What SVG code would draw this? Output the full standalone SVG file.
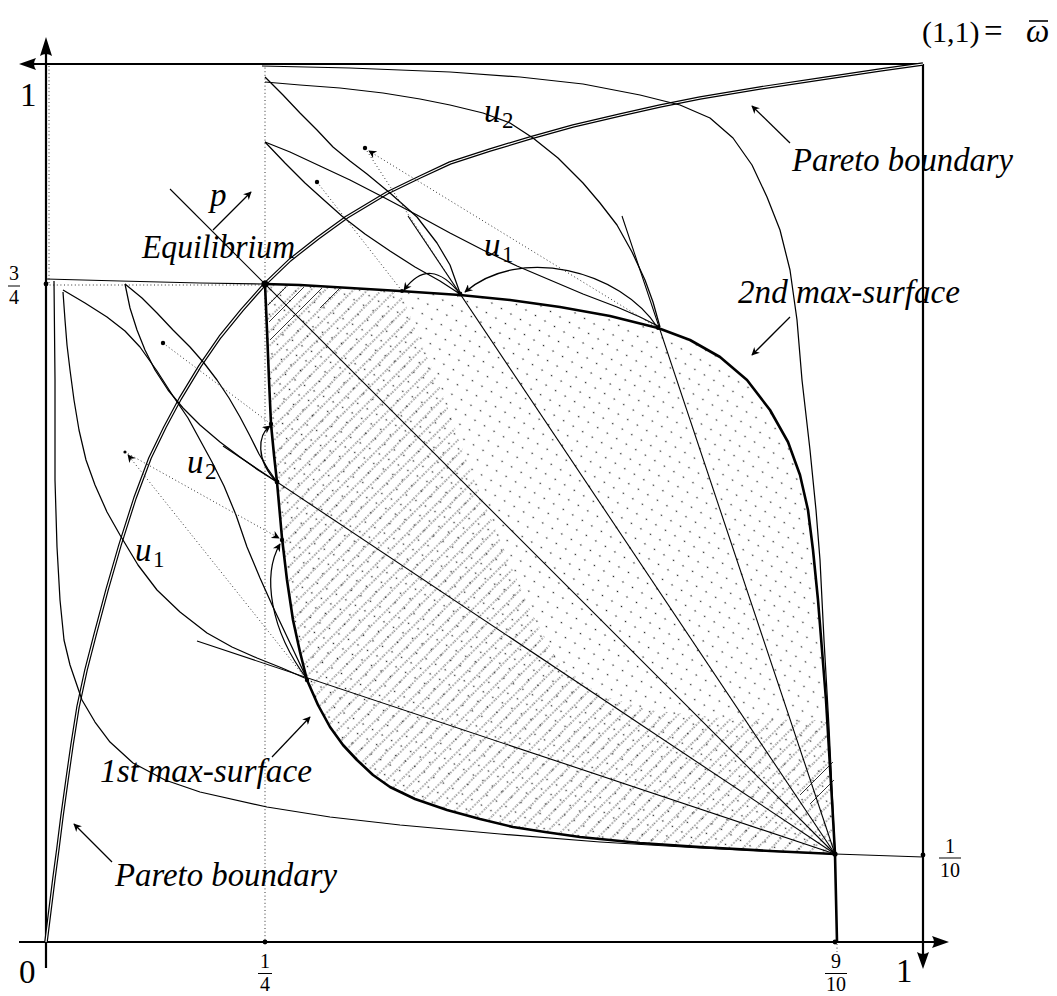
<svg xmlns="http://www.w3.org/2000/svg" width="1057" height="996" viewBox="0 0 1057 996">
<style>
.ax{stroke:#000;stroke-width:2.2;fill:none}
.thin{stroke:#000;stroke-width:1.25;fill:none;stroke-linejoin:round}
.thick{stroke:#000;stroke-width:2.6;fill:none;stroke-linejoin:round}
.ray{stroke:#000;stroke-width:1.1;fill:none}
.dotl{stroke:#333;stroke-width:1;fill:none;stroke-dasharray:1 2.6}
.lbl{font-family:"Liberation Serif","DejaVu Serif",serif;font-size:33px;font-style:italic;fill:#000}
.num{font-family:"Liberation Serif","DejaVu Serif",serif;font-size:33px;fill:#000}
.frac{font-family:"Liberation Serif","DejaVu Serif",serif;font-size:20px;fill:#000;text-anchor:middle}
.sub{font-family:"Liberation Serif","DejaVu Serif",serif;font-size:23px;fill:#000}
</style>
<defs>
<marker id="ah" viewBox="0 0 10 10" refX="9" refY="5" markerWidth="11" markerHeight="8" markerUnits="userSpaceOnUse" orient="auto">
<path d="M0,0 L10,5 L0,10 L3,5 Z" fill="#000"/>
</marker>
<pattern id="dots" width="11" height="11" patternUnits="userSpaceOnUse" patternTransform="rotate(30)">
<circle cx="5.5" cy="5.5" r="0.8" fill="#222"/>
</pattern>
<pattern id="hatch" width="12" height="10" patternUnits="userSpaceOnUse" patternTransform="rotate(-45)">
<line x1="0" y1="5" x2="12" y2="5" stroke="#000" stroke-width="0.9" stroke-dasharray="1.2 2"/>
</pattern>
<clipPath id="lens">
<polygon points="265,284 300,285 350,288 400,291 460,295 510,300 560,307 610,316 658,328 690,340 720,357 747,380 770,410 788,442 800,475 808,510 813,550 818,600 822,650 826,700 829,750 832,800 835,854 770,851 700,847 640,843 580,837 545,832 513,827 480,819 447,810 415,799 390,787 373,775 357,760 343,745 330,727 318,705 307,680 300,652 293,620 287,580 282,538 277,482 274,455 271,424 269,380 267,330"/>
</clipPath>
<clipPath id="hreg">
<polygon points="265,284 300,285 350,288 400,291 420,340 445,400 470,470 500,540 530,610 560,665 600,695 650,710 720,718 800,720 826,720 829,750 832,800 835,854 770,851 700,847 640,843 580,837 545,832 513,827 480,819 447,810 415,799 390,787 373,775 357,760 343,745 330,727 318,705 307,680 300,652 293,620 287,580 282,538 277,482 274,455 271,424 269,380 267,330"/>
</clipPath>
</defs>
<rect width="1057" height="996" fill="#fff"/>

<g id="shading">
<rect x="260" y="280" width="580" height="580" fill="url(#dots)" clip-path="url(#lens)"/>
<rect x="260" y="280" width="580" height="580" fill="url(#hatch)" clip-path="url(#hreg)"/>
<g stroke="#000" stroke-width="0.8" fill="none">
<line x1="286" y1="287" x2="268" y2="305"/>
<line x1="304" y1="287" x2="269" y2="322"/>
<line x1="322" y1="288" x2="270" y2="340"/>
<line x1="340" y1="288" x2="320" y2="308"/>
<line x1="834" y1="780" x2="810" y2="804"/>
<line x1="833" y1="762" x2="800" y2="795"/>
</g>
</g>

<g id="guides">
<line class="dotl" x1="265" y1="64" x2="265" y2="942"/>
<line class="dotl" x1="46" y1="285" x2="265" y2="285"/>
<line class="dotl" x1="49" y1="66" x2="49" y2="284"/>
<line class="dotl" x1="837" y1="944" x2="837" y2="952"/>
</g>

<g id="axes">
<line class="ax" x1="19" y1="942" x2="938" y2="942"/>
<line class="ax" x1="46" y1="968" x2="46" y2="48"/>
<line class="ax" x1="30" y1="64" x2="923" y2="64"/>
<line class="ax" x1="923" y1="64" x2="923" y2="958"/>
<path d="M46,37 L52,56 Q46,52 40,56 Z"/>
<path d="M19,64 L36,58 Q32,64 36,70 Z"/>
<path d="M949,942 L932,936 Q936,942 932,948 Z"/>
<path d="M923,969 L917,952 Q923,956 929,952 Z"/>
</g>

<g id="pareto-boundary">
<polyline points="46,942 50,910 54,878 58,848 62,816 67,780 72,745 78,707 86,670 95,635 107,590 120,545 135,498 150,458 165,427 180,399 200,366 220,337 242,310 265,284 290,260 318,238 347,217 387,193 420,177 450,163 490,150 530,138 573,126 620,115 660,106 700,98 760,88 820,79 880,70 923,64" fill="none" stroke="#000" stroke-width="3.6" stroke-linejoin="round"/>
<polyline points="46,942 50,910 54,878 58,848 62,816 67,780 72,745 78,707 86,670 95,635 107,590 120,545 135,498 150,458 165,427 180,399 200,366 220,337 242,310 265,284 290,260 318,238 347,217 387,193 420,177 450,163 490,150 530,138 573,126 620,115 660,106 700,98 760,88 820,79 880,70 923,64" fill="none" stroke="#fff" stroke-width="1.2" stroke-linejoin="round"/>
</g>

<g id="indifference-curves" class="thin">
<polyline points="54,281 55,380 55,480 57,547 60,600 64,640 70,665 82,700 95,722 110,742 133,763 165,780 200,792 267,807 330,817 400,825 500,834 600,842 700,848 835,854"/>
<polyline points="835,854 923,857"/>
<polyline points="262,66 350,68 450,72 520,77 583,84 640,95 680,105 710,118 733,138 752,165 767,197 780,230 790,270 797,320 802,380 810,450 816,510 820,560 824,640 829,727 832,790 835,854"/>
<polyline points="46,279 120,281 200,283 265,284"/>
<polyline points="63,292 65,320 67,345 70,370 74,400 79,430 86,460 95,485 107,512 120,535 138,565 157,590 180,612 207,633 232,647 257,658 282,668 307,679"/>
<polyline points="63,290 85,303 107,317 125,331 140,347 157,371 173,396 188,418 200,440 212,462 224,486 236,515 247,547 260,578 273,607 290,643 307,679"/>
<polyline points="125,284 130,308 137,330 145,350 155,370 168,390 183,408 200,425 220,442 240,457 258,470 277,482"/>
<polyline points="125,284 142,298 157,313 173,330 190,347 204,363 217,380 229,398 240,417 250,436 259,454 268,469 277,482"/>
<polyline points="265,77 283,95 300,113 317,130 333,147 350,161 367,174 390,193 417,217 437,243 450,265 460,293"/>
<polyline points="265,142 285,163 305,183 325,201 343,217 365,234 390,251 415,267 440,281 460,294"/>
<polyline points="265,82 300,85 340,88 383,93 420,99 450,105 483,113 510,123 533,138 558,158 583,183 600,203 617,225 632,252 645,280 653,302 660,327"/>
<polyline points="265,142 290,152 320,166 350,180 383,197 417,215 450,233 483,250 517,266 550,280 583,294 617,307 640,317 660,327"/>
</g>

<g id="rays" class="ray">
<line x1="835" y1="854" x2="170" y2="189"/>
<line x1="835" y1="854" x2="223" y2="446"/>
<line x1="835" y1="854" x2="197" y2="641"/>
<line x1="835" y1="854" x2="408" y2="216"/>
<line x1="835" y1="854" x2="622" y2="216"/>
</g>

<g id="max-surfaces">
<polyline class="thick" points="265,284 300,285 350,288 400,291 460,295 510,300 560,307 610,316 658,328 690,340 720,357 747,380 770,410 788,442 800,475 808,510 813,550 818,600 822,650 826,700 829,750 832,800 835,854 837,942"/>
<polyline class="thick" points="265,284 267,330 269,380 271,424 274,455 277,482 282,538 287,580 293,620 300,652 307,680 318,705 330,727 343,745 357,760 373,775 390,787 415,799 447,810 480,819 513,827 545,832 580,837 640,843 700,847 770,851 835,854"/>
</g>

<g id="moves">
<line class="dotl" x1="365" y1="148" x2="460" y2="294"/>
<line class="dotl" x1="658" y1="328" x2="369" y2="151" marker-end="url(#ah)"/>
<line class="dotl" x1="317" y1="182" x2="402" y2="291"/>
<line class="dotl" x1="163" y1="343" x2="271" y2="424"/>
<line class="dotl" x1="307" y1="680" x2="128" y2="455" marker-end="url(#ah)"/>
<line class="dotl" x1="125" y1="452" x2="279" y2="538" marker-end="url(#ah)"/>
<path class="thin" d="M460,294 Q430,255 404,290" marker-end="url(#ah)"/>
<path class="thin" d="M658,328 C620,270 520,245 465,292" marker-end="url(#ah)"/>
<path class="thin" d="M277,482 C255,460 258,435 270,426" marker-end="url(#ah)"/>
<path class="thin" d="M307,679 C270,630 262,575 280,544" marker-end="url(#ah)"/>
</g>

<g id="points" fill="#000">
<circle cx="265" cy="284" r="3.6"/>
<circle cx="460" cy="294" r="2.4"/>
<circle cx="658" cy="328" r="2"/>
<circle cx="402" cy="291" r="2"/>
<circle cx="277" cy="482" r="2.4"/>
<circle cx="271" cy="424" r="2.2"/>
<circle cx="282" cy="540" r="2.2"/>
<circle cx="307" cy="680" r="2.2"/>
<circle cx="835" cy="854" r="2.6"/>
<circle cx="365" cy="148" r="2.2"/>
<circle cx="317" cy="182" r="2.2"/>
<circle cx="163" cy="343" r="2.2"/>
<circle cx="125" cy="452" r="1.6"/>
<circle cx="46" cy="284" r="2.4"/>
<circle cx="265" cy="942" r="2.4"/>
<circle cx="835" cy="942" r="2.4"/>
<circle cx="923" cy="855" r="2.4"/>
</g>

<g id="label-arrows" class="thin">
<line x1="213" y1="230" x2="251" y2="192" marker-end="url(#ah)"/>
<line x1="790" y1="143" x2="752" y2="106" marker-end="url(#ah)"/>
<line x1="790" y1="317" x2="752" y2="355" marker-end="url(#ah)"/>
<line x1="272" y1="757" x2="310" y2="717" marker-end="url(#ah)"/>
<line x1="112" y1="862" x2="74" y2="824" marker-end="url(#ah)"/>
</g>

<g id="labels">
<text class="lbl" x="142" y="258" textLength="153" lengthAdjust="spacingAndGlyphs">Equilibrium</text>
<text class="lbl" x="210" y="206">p</text>
<text class="lbl" x="484" y="122">u</text><text class="sub" x="502" y="128">2</text>
<text class="lbl" x="484" y="256">u</text><text class="sub" x="502" y="262">1</text>
<text class="lbl" x="187" y="473">u</text><text class="sub" x="205" y="479">2</text>
<text class="lbl" x="135" y="561">u</text><text class="sub" x="153" y="567">1</text>
<text class="lbl" x="792" y="171" textLength="221" lengthAdjust="spacingAndGlyphs">Pareto boundary</text>
<text class="lbl" x="738" y="303" textLength="222" lengthAdjust="spacingAndGlyphs">2nd max-surface</text>
<text class="lbl" x="100" y="782" textLength="212" lengthAdjust="spacingAndGlyphs">1st max-surface</text>
<text class="lbl" x="115" y="886" textLength="222" lengthAdjust="spacingAndGlyphs">Pareto boundary</text>
<text class="num" y="42"><tspan x="922" font-size="30">(1,1)</tspan><tspan x="984">=</tspan><tspan x="1026" font-style="italic">ω</tspan></text>
<line x1="1029" y1="21" x2="1048" y2="21" stroke="#000" stroke-width="1.6"/>
<text class="num" x="20" y="106">1</text>
<text class="num" x="19" y="983">0</text>
<text class="num" x="896" y="982">1</text>
<text class="frac" x="265" y="968">1</text><line x1="258" y1="973.5" x2="272" y2="973.5" stroke="#000" stroke-width="1"/><text class="frac" x="265" y="991">4</text>
<text class="frac" x="836" y="968">9</text><line x1="825" y1="973.5" x2="847" y2="973.5" stroke="#000" stroke-width="1"/><text class="frac" x="836" y="991">10</text>
<text class="frac" x="14" y="280">3</text><line x1="8" y1="286" x2="20" y2="286" stroke="#000" stroke-width="1"/><text class="frac" x="14" y="304">4</text>
<text class="frac" x="950" y="853">1</text><line x1="939" y1="858" x2="961" y2="858" stroke="#000" stroke-width="1"/><text class="frac" x="950" y="877">10</text>
</g>
</svg>
